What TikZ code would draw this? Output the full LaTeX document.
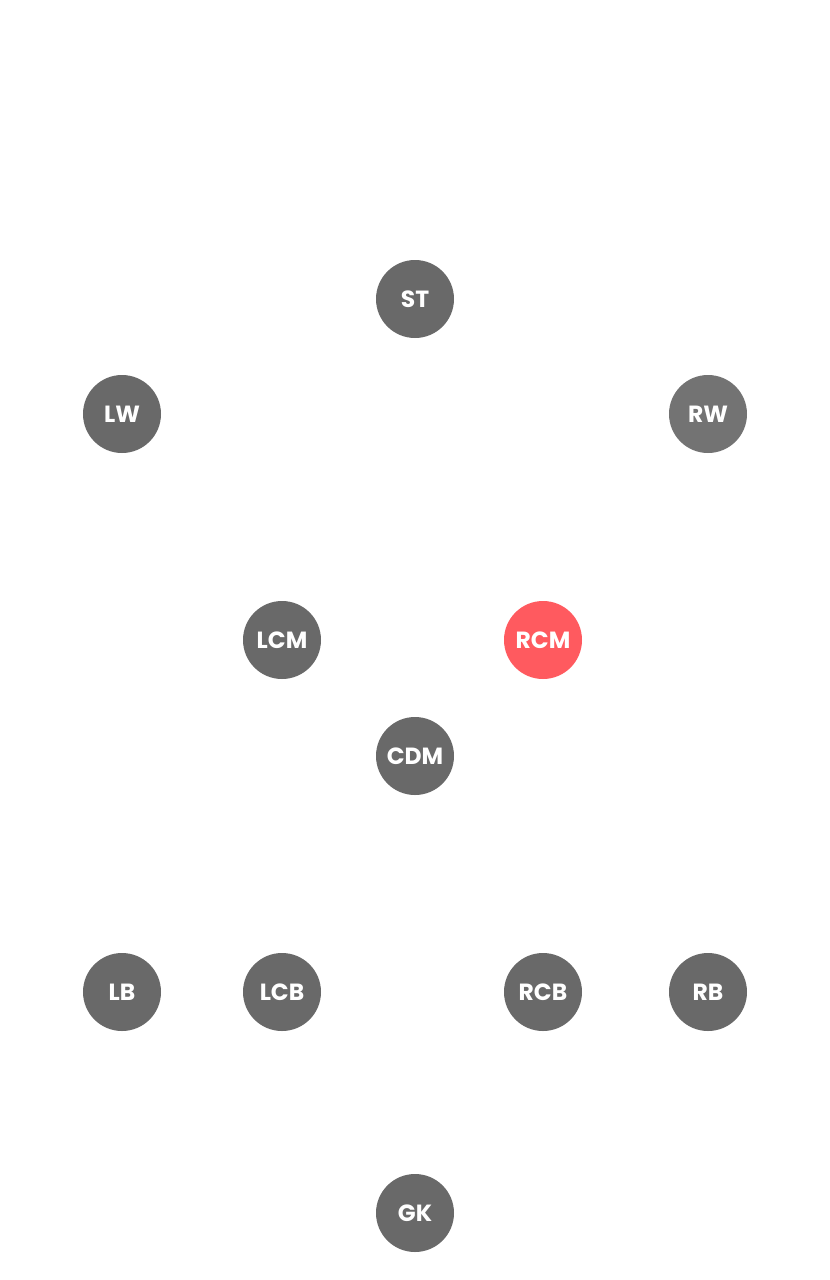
\documentclass[tikz,border=0pt]{standalone}
\usepackage{fontspec}
\setmainfont{Poppins}
\usepackage{tikz}
\usepackage{xcolor}
\definecolor{PlayerGray}{RGB}{105,105,105}
\definecolor{WingGray}{RGB}{115,115,115}
\definecolor{PickRed}{RGB}{255,90,95}

\begin{document}
\begin{tikzpicture}[x=0.03cm, y=-0.03cm,
    player/.style={circle, fill=PlayerGray, minimum size=2.34cm, inner sep=0pt,
      text=white, font=\fontsize{20}{22}\selectfont\bfseries},
    picked/.style={player, fill=PickRed}]
        \useasboundingbox (0,0) rectangle (829,1280);
        \node[player] (st) at (415,299) {ST};
        \node[player] (lw) at (122,414) {LW};
        \node[player, fill=WingGray] (rw) at (708,414) {RW};
        \node[player] (lcm) at (282,640) {LCM};
        \node[picked] (rcm) at (543,640) {RCM};
        \node[player] (cdm) at (415,756) {CDM};
        \node[player] (lb) at (122,992) {LB};
        \node[player] (lcb) at (282,992) {LCB};
        \node[player] (rcb) at (543,992) {RCB};
        \node[player] (rb) at (708,992) {RB};
        \node[player] (gk) at (415,1213) {GK};
      \end{tikzpicture}
\end{document}
